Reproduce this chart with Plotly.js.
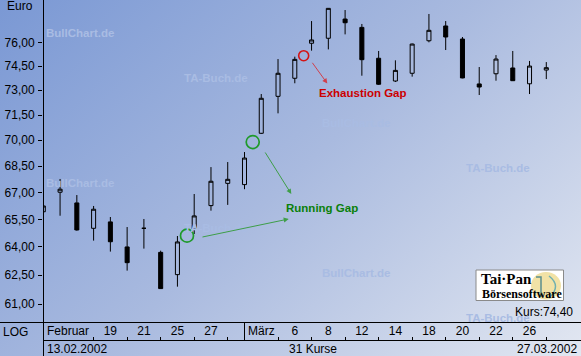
<!DOCTYPE html>
<html><head><meta charset="utf-8">
<script src="https://cdn.plot.ly/plotly-3.0.1.min.js"></script>
<style>
html,body{margin:0;padding:0;}
#chart{width:581px;height:356px;background:linear-gradient(137deg,#7a98d4 0%,#a9badf 50%,#e2e7f1 100%);}
</style></head><body><div id="chart"></div>
<script>
// ---- data ----
const dates = ['13.02.2002','14.02.2002','15.02.2002','18.02.2002','19.02.2002','20.02.2002','21.02.2002','22.02.2002',
  '25.02.2002','26.02.2002','27.02.2002','28.02.2002','01.03.2002','04.03.2002','05.03.2002','06.03.2002','07.03.2002',
  '08.03.2002','11.03.2002','12.03.2002','13.03.2002','14.03.2002','15.03.2002','18.03.2002','19.03.2002','20.03.2002',
  '21.03.2002','22.03.2002','25.03.2002','26.03.2002','27.03.2002'];
const open  = [65.92,67.01,66.41,65.01,65.36,64.00,65.01,63.71,62.53,64.96,66.26,67.51,67.44,70.41,72.63,73.74,75.94,76.26,77.50,76.96,74.99,73.57,74.05,76.10,77.05,76.21,73.39,74.02,74.38,73.40,74.25];
const high  = [66.40,67.76,66.85,66.24,65.63,65.08,65.52,63.80,64.59,66.91,68.44,68.73,69.31,72.77,74.94,75.09,77.37,78.22,78.09,77.18,75.45,74.86,75.92,77.83,77.37,76.34,74.44,75.19,75.45,74.82,74.75];
const low   = [65.80,65.70,64.88,64.34,63.75,62.74,63.91,61.78,61.90,64.70,65.98,66.30,67.18,70.37,71.60,73.43,75.47,75.55,76.51,73.90,73.33,73.51,73.84,76.00,75.51,73.74,72.71,73.59,73.57,72.77,73.69];
const close = [66.24,67.18,64.92,66.06,64.28,63.16,65.01,61.80,64.27,65.69,67.63,67.74,68.96,72.51,74.05,74.92,76.15,78.20,77.26,74.90,73.37,74.23,75.89,76.77,76.34,73.76,73.20,74.94,73.59,74.50,74.40];

const yTickVals = [61,62.5,64,65.5,67,68.5,70,71.5,73,74.5,76];
const yTickText = ['61,00','62,50','64,00','65,50','67,00','68,50','70,00','71,50','73,00','74,50','76,00'];
const yRange = [60.09, 78.75];

const xLabelDates = ['19.02.2002','21.02.2002','25.02.2002','27.02.2002','06.03.2002','08.03.2002','12.03.2002','14.03.2002','18.03.2002','20.03.2002','22.03.2002','26.03.2002'];
const xLabelText  = ['19','21','25','27','6','8','12','14','18','20','22','26'];
const minorTickDates = ['18.02.2002','20.02.2002','22.02.2002','26.02.2002','28.02.2002','05.03.2002','07.03.2002','11.03.2002','13.03.2002','15.03.2002','19.03.2002','21.03.2002','25.03.2002','27.03.2002'];
const monthText = ['Februar','März'];

// gap markers (position in trading-day index / price)
const runGapX = [8.57, 12.49];
const runGapY = [64.61, 69.89];
const exhGapX = [15.53];
const exhGapY = [75.15];

// ---- helpers ----
const idx = d => dates.indexOf(d);
const xi = dates.map((d,i)=>i);
const PX = x => (x-43)/538;
const PY = y => (356-y)/356;
const xRange = [-0.018, 32.07];
const FONT = 'Liberation Sans, Arial, sans-serif';
const SERIF = 'Liberation Serif, Times New Roman, serif';

function txt(text, x, y, o) {
  o = o || {};
  return Object.assign({
    text: text, x: PX(x), y: PY(y), xref: 'paper', yref: 'paper',
    xanchor: o.xa || 'left', yanchor: 'middle', showarrow: false,
    font: {family: o.family || FONT, size: o.size || 12, color: o.color || '#000', weight: o.weight || 'normal'}
  }, {});
}
function arrow(tx, ty, hx, hy, color) {
  return {text: '', x: PX(hx), y: PY(hy), xref: 'paper', yref: 'paper', showarrow: true,
    ax: tx-hx, ay: ty-hy, arrowhead: 2, arrowsize: 1, arrowwidth: 1, arrowcolor: color,
    standoff: 0, startstandoff: 0};
}
function hline(x0, x1, y) {
  return {type:'line', xref:'paper', yref:'paper', x0: PX(x0), x1: PX(x1), y0: PY(y), y1: PY(y), line:{color:'#000', width:1}};
}
function vline(x, y0, y1) {
  return {type:'line', xref:'paper', yref:'paper', x0: PX(x), x1: PX(x), y0: PY(y0), y1: PY(y1), line:{color:'#000', width:1}};
}

const traces = [
  {type:'candlestick', x: xi, open: open, high: high, low: low, close: close,
   increasing: {line:{color:'#000', width:1}, fillcolor:'rgba(0,0,0,0)'},
   decreasing: {line:{color:'#000', width:1}, fillcolor:'#000'},
   whiskerwidth: 0, hoverinfo:'skip', showlegend:false},
  {type:'scatter', mode:'markers', x: runGapX, y: runGapY, hoverinfo:'skip', showlegend:false,
   marker:{symbol:'circle-open', size:13, color:'#1f9a2a', line:{width:1.7}}},
  {type:'scatter', mode:'markers', x: exhGapX, y: exhGapY, hoverinfo:'skip', showlegend:false,
   marker:{symbol:'circle-open', size:10, color:'#d41414', line:{width:1.6}}},
  {type:'scatter', mode:'markers', x:[0], y:[70], xaxis:'x2', yaxis:'y', hoverinfo:'skip', showlegend:false,
   marker:{opacity:0}}
];

const wm = '#a9bce3';
const annotations = [
  txt('BullChart.de', 80, 32.5, {xa:'center', size:11.5, weight:'bold', color:wm}),
  txt('TA-Buch.de', 215.5, 78, {xa:'center', size:11.5, weight:'bold', color:wm}),
  txt('BullChart.de', 356, 122.5, {xa:'center', size:11.5, weight:'bold', color:wm}),
  txt('TA-Buch.de', 498, 167.5, {xa:'center', size:11.5, weight:'bold', color:wm}),
  txt('BullChart.de', 80, 183, {xa:'center', size:11.5, weight:'bold', color:wm}),
  txt('TA-Buch.de', 215.5, 228.5, {xa:'center', size:11.5, weight:'bold', color:wm}),
  txt('BullChart.de', 356, 272.5, {xa:'center', size:11.5, weight:'bold', color:wm}),
  txt('TA-Buch.de', 498, 317.5, {xa:'center', size:11.5, weight:'bold', color:wm}),

  txt('Euro', 4.5, 6.5),
  txt('LOG', 1, 331.8),
  txt(monthText[0], 45, 331.3),
  txt(monthText[1], 246, 331.3),
  txt(dates[0], 45, 348.8),
  txt(dates.length + ' Kurse', 313, 348.8, {xa:'center'}),
  txt(dates[dates.length-1], 578.5, 348.8, {xa:'right'}),
  txt('Kurs:' + close[close.length-1].toFixed(2).replace('.', ','), 513, 312.2),

  txt('Exhaustion Gap', 317, 93.3, {size:11.5, weight:'bold', color:'#cc0000'}),
  txt('Running Gap', 283.5, 207.7, {size:11.5, weight:'bold', color:'#0a800a'}),
  arrow(311.3, 61.3, 327.3, 83.5, '#d0404c'),
  arrow(264.3, 151, 291.3, 194, '#3e9e48'),
  arrow(201, 237.3, 288.7, 219, '#3e9e48'),

  txt('Tai·Pan', 479, 279.3, {family:SERIF, size:15, weight:'bold'}),
  txt('Börsensoftware', 479.5, 294.2, {family:SERIF, size:12, weight:'bold'})
];

const shapes = [
  vline(43.5, 0, 356),
  hline(0, 581, 322.5),
  hline(43, 581, 340.5),
  vline(244.5, 322.5, 340.5),
  {type:'rect', xref:'paper', yref:'paper', x0:PX(476), x1:PX(563.5), y0:PY(270), y1:PY(300.5),
   fillcolor:'#ffffff', line:{color:'#8a8a8a', width:1}},
  {type:'circle', xref:'paper', yref:'paper', x0:PX(531), x1:PX(561), y0:PY(272), y1:PY(299.5),
   fillcolor:'#f1e2a6', line:{width:0}},
  {type:'path', xref:'paper', yref:'paper',
   path:'M '+PX(536)+' '+PY(277)+' L '+PX(541)+' '+PY(277)+' L '+PX(541)+' '+PY(297),
   line:{color:'#5a8f8f', width:1.5}},
  {type:'path', xref:'paper', yref:'paper',
   path:'M '+PX(549)+' '+PY(276)+' Q '+PX(562)+' '+PY(286)+' '+PX(549)+' '+PY(298),
   line:{color:'#6fb0b0', width:1.5}}
];

const layout = {
  width:581, height:356, margin:{l:43, r:0, t:0, b:0, pad:0},
  paper_bgcolor:'rgba(0,0,0,0)', plot_bgcolor:'rgba(0,0,0,0)',
  showlegend:false, boxgap:0.76, boxgroupgap:0,
  font:{family:FONT, size:12, color:'#000'},
  xaxis:{type:'linear', range:xRange, showgrid:false, zeroline:false, showline:false, ticks:'',
    tickvals: xLabelDates.map(idx), ticktext: xLabelText, tickfont:{size:12, color:'#000'},
    rangeslider:{visible:false}, fixedrange:true},
  xaxis2:{type:'linear', overlaying:'x', anchor:'free', position:16/356, range:xRange,
    showgrid:false, zeroline:false, showline:false, ticks:'inside', ticklen:3, tickwidth:1, tickcolor:'#000',
    tickvals: minorTickDates.map(idx), showticklabels:false, fixedrange:true},
  yaxis:{type:'log', range:[Math.log10(yRange[0]), Math.log10(yRange[1])], domain:[34/356, 1],
    tickvals:yTickVals, ticktext:yTickText, ticks:'outside', ticklen:4, tickwidth:1, tickcolor:'#000',
    showgrid:false, zeroline:false, showline:false, tickfont:{size:12, color:'#000'},
    ticklabelstandoff:1, fixedrange:true},
  annotations: annotations,
  shapes: shapes
};

Plotly.newPlot('chart', traces, layout, {displayModeBar:false, staticPlot:true});
</script>
</body></html>
